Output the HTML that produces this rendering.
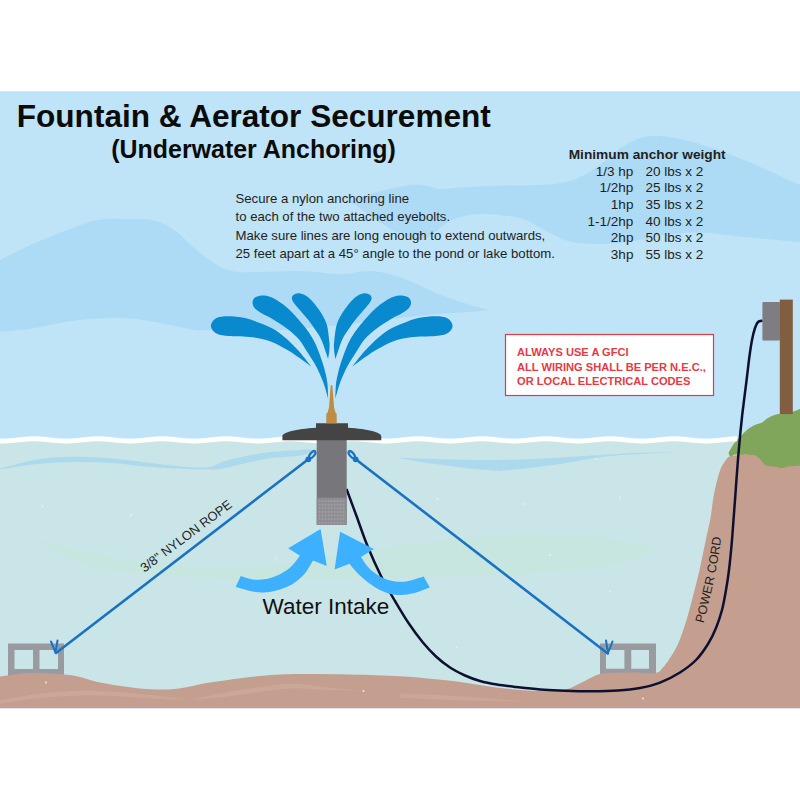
<!DOCTYPE html>
<html lang="en">
<head>
<meta charset="utf-8">
<title>Fountain &amp; Aerator Securement (Underwater Anchoring)</title>
<style>
html,body{margin:0;padding:0;background:#ffffff;}
body{width:800px;height:800px;overflow:hidden;font-family:"Liberation Sans",sans-serif;}
svg{display:block;position:absolute;left:0;top:0;}
svg text{font-family:"Liberation Sans",sans-serif;}
</style>
</head>
<body>
<svg width="800" height="800" viewBox="0 0 800 800">
<rect x="0" y="91.3" width="800" height="350" fill="#bfe3f7"/>
<path d="M0.0,260.0 C5.4,257.3 21.7,248.8 32.5,244.0 C43.3,239.2 54.2,235.0 65.0,231.0 C75.8,227.0 86.7,222.0 97.5,220.0 C108.3,218.0 120.2,218.8 130.0,219.0 C139.8,219.2 148.4,219.0 156.0,221.0 C163.6,223.0 169.0,226.4 175.5,231.0 C182.0,235.6 188.5,243.3 195.0,248.8 C201.5,254.2 208.0,259.6 214.5,263.4 C221.0,267.2 226.4,270.1 234.0,271.5 C241.6,272.9 249.0,272.1 260.0,272.0 C271.0,271.9 286.7,270.7 300.0,271.0 C313.3,271.3 328.0,274.0 340.0,274.0 C352.0,274.0 361.2,270.2 372.0,271.0 C382.8,271.8 394.2,275.2 405.0,279.0 C415.8,282.8 426.2,289.3 437.0,293.6 C447.8,297.9 461.2,302.3 470.0,305.0 C478.8,307.7 486.2,309.2 489.5,310.0 C486.2,310.3 478.8,311.3 470.0,312.0 C461.2,312.7 448.7,313.0 437.0,314.0 C425.3,315.0 417.8,316.0 400.0,318.0 C382.2,320.0 353.3,323.8 330.0,326.0 C306.7,328.2 279.8,330.3 260.0,331.0 C240.2,331.7 221.8,330.2 211.0,330.0 C200.2,329.8 203.1,331.1 195.0,330.0 C186.9,328.9 173.3,325.4 162.5,323.5 C151.7,321.6 140.8,319.4 130.0,318.6 C119.2,317.8 108.3,318.0 97.5,318.6 C86.7,319.2 75.8,320.4 65.0,322.0 C54.2,323.6 43.3,326.8 32.5,328.4 C21.7,330.0 5.4,331.1 0.0,331.6 C0.0,319.7 0.0,271.9 0.0,260.0 Z" fill="#addbf6"/>
<path d="M350.0,201.0 C353.3,199.8 363.3,196.0 370.0,194.0 C376.7,192.0 383.3,190.5 390.0,189.0 C396.7,187.5 403.8,185.5 410.0,185.0 C416.2,184.5 422.5,185.3 427.5,186.0 C432.5,186.7 434.6,188.8 440.0,189.0 C445.4,189.2 451.7,188.0 460.0,187.5 C468.3,187.0 476.7,186.4 490.0,186.0 C503.3,185.6 528.3,185.5 540.0,185.0 C551.7,184.5 553.7,184.2 560.0,183.0 C566.3,181.8 571.3,181.0 578.0,178.0 C584.7,175.0 592.2,170.5 600.0,165.0 C607.8,159.5 616.7,149.8 625.0,145.0 C633.3,140.2 640.8,137.0 650.0,136.0 C659.2,135.0 670.0,137.1 680.0,139.0 C690.0,140.9 698.3,143.6 710.0,147.5 C721.7,151.4 735.0,156.2 750.0,162.5 C765.0,168.8 791.7,181.2 800.0,185.0 C800.0,194.5 800.0,232.5 800.0,242.0 C794.5,241.5 777.8,240.0 767.0,239.0 C756.2,238.0 745.8,237.1 735.0,236.0 C724.2,234.9 712.8,232.8 702.0,232.5 C691.2,232.2 680.8,232.7 670.0,234.0 C659.2,235.3 647.8,238.9 637.0,240.6 C626.2,242.3 615.8,243.8 605.0,244.0 C594.2,244.2 581.2,243.8 572.0,242.0 C562.8,240.2 557.0,236.3 550.0,233.0 C543.0,229.7 535.8,224.7 530.0,222.0 C524.2,219.3 523.3,218.3 515.0,217.0 C506.7,215.7 490.5,213.5 480.0,214.0 C469.5,214.5 459.5,217.0 452.0,220.0 C444.5,223.0 440.0,228.7 435.0,232.0 C430.0,235.3 427.8,239.7 422.0,240.0 C416.2,240.3 407.8,237.5 400.0,234.0 C392.2,230.5 383.3,224.5 375.0,219.0 C366.7,213.5 354.2,204.0 350.0,201.0 Z" fill="#addbf6"/>
<rect x="0" y="440" width="800" height="268.2" fill="#c9e5e8"/>
<path d="M0.0,468.5 C6.2,467.0 25.0,461.4 37.5,459.4 C50.0,457.4 62.5,456.9 75.0,456.8 C87.5,456.6 100.0,457.6 112.5,458.6 C125.0,459.6 137.5,461.6 150.0,463.0 C162.5,464.4 177.5,466.3 187.5,467.0 C197.5,467.7 203.8,468.0 210.0,467.0 C216.2,466.0 216.2,463.3 225.0,461.0 C233.8,458.7 250.0,454.8 262.5,453.0 C275.0,451.2 290.8,450.6 300.0,450.0 C309.2,449.4 315.0,449.6 318.0,449.5 C315.0,450.5 309.2,454.0 300.0,455.6 C290.8,457.2 275.0,457.3 262.5,459.4 C250.0,461.5 233.8,466.3 225.0,468.0 C216.2,469.7 216.2,469.3 210.0,469.5 C203.8,469.7 197.5,469.4 187.5,469.0 C177.5,468.6 162.5,468.0 150.0,467.0 C137.5,466.0 125.0,463.8 112.5,463.0 C100.0,462.2 87.5,461.8 75.0,462.0 C62.5,462.2 50.0,462.8 37.5,464.0 C25.0,465.2 6.2,468.6 0.0,469.5 Z" fill="#add9ed"/>
<path d="M395.0,457.5 C401.7,457.8 420.0,458.6 435.0,459.0 C450.0,459.4 468.3,460.0 485.0,460.0 C501.7,460.0 518.3,459.7 535.0,459.0 C551.7,458.3 568.3,457.0 585.0,456.0 C601.7,455.0 620.0,453.6 635.0,453.0 C650.0,452.4 668.3,452.6 675.0,452.5 C664.2,453.1 629.2,454.1 610.0,456.0 C590.8,457.9 576.7,461.7 560.0,464.0 C543.3,466.3 522.5,469.0 510.0,470.0 C497.5,471.0 497.5,471.0 485.0,470.0 C472.5,469.0 450.0,466.1 435.0,464.0 C420.0,461.9 401.7,458.6 395.0,457.5 Z" fill="#add9ed"/>
<path d="M35.0,539.0 C43.8,541.2 64.2,547.7 87.5,552.0 C110.8,556.3 146.2,562.7 175.0,565.0 C203.8,567.3 230.8,568.0 260.0,566.0 C289.2,564.0 320.0,557.3 350.0,553.0 C380.0,548.7 410.8,543.0 440.0,540.0 C469.2,537.0 496.3,535.2 525.0,535.0 C553.7,534.8 590.2,536.8 612.0,539.0 C633.8,541.2 648.7,546.5 656.0,548.0 C648.7,550.8 633.8,560.7 612.0,565.0 C590.2,569.3 553.7,571.8 525.0,574.0 C496.3,576.2 469.2,577.2 440.0,578.0 C410.8,578.8 380.0,578.7 350.0,579.0 C320.0,579.3 289.2,580.3 260.0,580.0 C230.8,579.7 203.8,579.3 175.0,577.0 C146.2,574.7 110.8,572.3 87.5,566.0 C64.2,559.7 43.8,543.5 35.0,539.0 Z" fill="#c8e6e0"/>
<g fill="#e4f3f5"><circle cx="42.5" cy="506.5" r="0.9"/><circle cx="131.0" cy="515.0" r="0.9"/><circle cx="276.5" cy="558.5" r="0.9"/><circle cx="523.5" cy="504.0" r="0.9"/><circle cx="620.0" cy="497.5" r="0.9"/><circle cx="437.5" cy="499.0" r="0.9"/><circle cx="596.5" cy="459.0" r="0.9"/><circle cx="550.0" cy="555.0" r="0.9"/><circle cx="610.0" cy="591.5" r="0.9"/><circle cx="456.5" cy="647.5" r="0.9"/></g>
<path d="M8,643.5 H64 V676 H8 Z M14.5,650 V669 H33 V650 Z M39.5,650 V669 H58 V650 Z" fill="#9a9ba0" fill-rule="evenodd"/>
<path d="M600,643.5 H656 V676 H600 Z M606,650 V668.75 H624.4 V650 Z M631.25,650 V668.75 H649 V650 Z" fill="#9a9ba0" fill-rule="evenodd"/>
<path d="M0.0,676.5 C5.0,675.9 19.3,673.3 30.0,673.0 C40.7,672.7 55.7,673.8 64.0,674.5 C72.3,675.2 74.0,675.7 80.0,677.0 C86.0,678.3 90.0,680.6 100.0,682.5 C110.0,684.4 127.5,687.4 140.0,688.5 C152.5,689.6 163.3,690.0 175.0,689.0 C186.7,688.0 195.8,684.7 210.0,682.5 C224.2,680.3 245.0,677.4 260.0,676.0 C275.0,674.6 285.0,674.2 300.0,674.0 C315.0,673.8 333.3,674.1 350.0,674.5 C366.7,674.9 387.1,675.6 400.0,676.3 C412.9,677.0 418.3,677.7 427.5,678.5 C436.7,679.3 445.8,680.1 455.0,681.2 C464.2,682.4 473.3,684.1 482.5,685.4 C491.7,686.7 500.8,688.1 510.0,689.0 C519.2,689.9 528.3,690.9 537.5,691.0 C546.7,691.1 558.1,690.7 565.0,689.5 C571.9,688.3 574.2,686.1 578.8,684.0 C583.3,681.9 588.4,678.8 592.5,677.0 C596.6,675.2 597.2,674.2 603.5,673.5 C609.8,672.8 621.4,672.6 630.0,672.5 C638.6,672.4 649.6,673.8 655.0,673.0 C660.4,672.2 660.0,670.5 662.5,668.0 C665.0,665.5 667.4,662.0 670.0,658.0 C672.6,654.0 675.2,650.3 678.0,644.0 C680.8,637.7 684.0,628.0 686.5,620.0 C689.0,612.0 690.8,604.3 693.0,596.0 C695.2,587.7 697.4,579.3 699.5,570.0 C701.6,560.7 704.0,548.7 705.8,540.0 C707.6,531.3 709.3,524.7 710.5,518.0 C711.7,511.3 712.1,505.5 713.0,500.0 C713.9,494.5 714.7,490.3 716.0,485.0 C717.3,479.7 719.0,472.7 721.0,468.0 C723.0,463.3 727.0,458.8 728.2,457.0 L800,440 L800,708.2 L0,708.2 Z" fill="#c49e8f"/>
<path d="M0.0,700.0 C8.3,698.8 33.3,694.0 50.0,692.5 C66.7,691.0 83.3,690.6 100.0,691.0 C116.7,691.4 135.0,693.5 150.0,695.0 C165.0,696.5 183.3,699.2 190.0,700.0 C183.3,699.8 165.0,699.2 150.0,698.5 C135.0,697.8 116.7,695.8 100.0,695.5 C83.3,695.2 66.7,695.7 50.0,697.0 C33.3,698.3 8.3,702.4 0.0,703.5 Z" fill="#cba799"/><path d="M190.0,700.0 C195.8,698.8 210.8,695.0 225.0,692.5 C239.2,690.0 262.5,686.4 275.0,685.0 C287.5,683.6 291.7,683.7 300.0,684.0 C308.3,684.3 315.0,685.9 325.0,687.0 C335.0,688.1 354.2,689.9 360.0,690.5 C354.2,690.4 335.0,690.3 325.0,690.0 C315.0,689.7 308.3,688.5 300.0,688.5 C291.7,688.5 287.5,688.6 275.0,690.0 C262.5,691.4 239.2,695.3 225.0,697.0 C210.8,698.7 195.8,699.5 190.0,700.0 Z" fill="#cba799"/>
<path d="M400,693.5 C430,694 470,696.5 525,701.5 C470,701 430,699 400,698 Z" fill="#cba799"/>
<g fill="#f3e4d6"><circle cx="46" cy="682.5" r="1"/><circle cx="363.5" cy="691" r="1"/><circle cx="643" cy="698.5" r="1"/></g>
<path d="M728.5,453.0 C729.2,451.7 731.1,447.7 733.0,445.0 C734.9,442.3 737.5,439.7 740.0,437.0 C742.5,434.3 745.5,431.0 748.0,429.0 C750.5,427.0 752.7,426.1 755.0,425.0 C757.3,423.9 759.8,423.7 762.0,422.5 C764.2,421.3 765.7,419.3 768.0,418.0 C770.3,416.7 773.3,415.2 776.0,414.5 C778.7,413.8 781.3,413.9 784.0,413.5 C786.7,413.1 789.3,412.8 792.0,412.0 C794.7,411.2 798.7,409.5 800.0,409.0 C800.0,418.5 800.0,456.5 800.0,466.0 C799.0,465.2 796.0,465.8 794.0,466.0 C792.0,466.2 789.7,466.2 788.0,466.5 C786.3,466.8 785.3,467.6 784.0,467.8 C782.7,468.1 781.3,468.2 780.0,468.0 C778.7,467.8 777.3,466.8 776.0,466.5 C774.7,466.2 773.3,466.6 772.0,466.5 C770.7,466.4 769.2,466.1 768.0,465.8 C766.8,465.6 766.0,465.7 765.0,465.0 C764.0,464.3 762.8,462.5 762.0,461.5 C761.2,460.5 760.8,459.8 760.0,459.0 C759.2,458.2 758.0,457.2 757.0,456.5 C756.0,455.8 755.2,455.2 754.0,455.0 C752.8,454.8 751.3,455.2 750.0,455.0 C748.7,454.8 747.3,454.0 746.0,454.0 C744.7,454.0 743.2,454.8 742.0,454.8 C740.8,454.8 740.2,454.1 739.0,454.0 C737.8,453.9 736.2,454.2 735.0,454.5 C733.8,454.8 732.8,455.7 732.0,456.0 C731.2,456.3 730.6,457.0 730.0,456.5 C729.4,456.0 728.8,453.6 728.5,453.0 Z" fill="#7fa65b"/>
<path d="M-2,440.92 L0.0,440.98 L4.0,440.98 L8.0,440.81 L12.0,440.51 L16.0,440.11 L20.0,439.69 L24.0,439.29 L28.0,438.99 L32.0,438.82 L36.0,438.82 L40.0,438.99 L44.0,439.29 L48.0,439.69 L52.0,440.11 L56.0,440.51 L60.0,440.81 L64.0,440.98 L68.0,440.98 L72.0,440.81 L76.0,440.51 L80.0,440.11 L84.0,439.69 L88.0,439.29 L92.0,438.99 L96.0,438.82 L100.0,438.82 L104.0,438.99 L108.0,439.29 L112.0,439.69 L116.0,440.11 L120.0,440.51 L124.0,440.81 L128.0,440.98 L132.0,440.98 L136.0,440.81 L140.0,440.51 L144.0,440.11 L148.0,439.69 L152.0,439.29 L156.0,438.99 L160.0,438.82 L164.0,438.82 L168.0,438.99 L172.0,439.29 L176.0,439.69 L180.0,440.11 L184.0,440.51 L188.0,440.81 L192.0,440.98 L196.0,440.98 L200.0,440.81 L204.0,440.51 L208.0,440.11 L212.0,439.69 L216.0,439.29 L220.0,438.99 L224.0,438.82 L228.0,438.82 L232.0,438.99 L236.0,439.29 L240.0,439.69 L244.0,440.11 L248.0,440.51 L252.0,440.81 L256.0,440.98 L260.0,440.98 L264.0,440.81 L268.0,440.51 L272.0,440.11 L276.0,439.69 L280.0,439.29 L284.0,438.99 L288.0,438.82 L292.0,438.82 L296.0,438.99 L300.0,439.29 L304.0,439.69 L308.0,440.11 L312.0,440.51 L316.0,440.81 L320.0,440.98 L324.0,440.98 L328.0,440.81 L332.0,440.51 L336.0,440.11 L340.0,439.69 L344.0,439.29 L348.0,438.99 L352.0,438.82 L356.0,438.82 L360.0,438.99 L364.0,439.29 L368.0,439.69 L372.0,440.11 L376.0,440.51 L380.0,440.81 L384.0,440.98 L388.0,440.98 L392.0,440.81 L396.0,440.51 L400.0,440.11 L404.0,439.69 L408.0,439.29 L412.0,438.99 L416.0,438.82 L420.0,438.82 L424.0,438.99 L428.0,439.29 L432.0,439.69 L436.0,440.11 L440.0,440.51 L444.0,440.81 L448.0,440.98 L452.0,440.98 L456.0,440.81 L460.0,440.51 L464.0,440.11 L468.0,439.69 L472.0,439.29 L476.0,438.99 L480.0,438.82 L484.0,438.82 L488.0,438.99 L492.0,439.29 L496.0,439.69 L500.0,440.11 L504.0,440.51 L508.0,440.81 L512.0,440.98 L516.0,440.98 L520.0,440.81 L524.0,440.51 L528.0,440.11 L532.0,439.69 L536.0,439.29 L540.0,438.99 L544.0,438.82 L548.0,438.82 L552.0,438.99 L556.0,439.29 L560.0,439.69 L564.0,440.11 L568.0,440.51 L572.0,440.81 L576.0,440.98 L580.0,440.98 L584.0,440.81 L588.0,440.51 L592.0,440.11 L596.0,439.69 L600.0,439.29 L604.0,438.99 L608.0,438.82 L612.0,438.82 L616.0,438.99 L620.0,439.29 L624.0,439.69 L628.0,440.11 L632.0,440.51 L636.0,440.81 L640.0,440.98 L644.0,440.98 L648.0,440.81 L652.0,440.51 L656.0,440.11 L660.0,439.69 L664.0,439.29 L668.0,438.99 L672.0,438.82 L676.0,438.82 L680.0,438.99 L684.0,439.29 L688.0,439.69 L692.0,440.11 L696.0,440.51 L700.0,440.81 L704.0,440.98 L708.0,440.98 L712.0,440.81 L716.0,440.51 L720.0,440.11 L724.0,439.69 L728.0,439.29 L732.0,438.99 L736.0,438.82 L737.0,438.81" fill="none" stroke="#ffffff" stroke-width="4.9"/>
<rect x="779.8" y="299.6" width="13" height="114.5" fill="#805e3f"/>
<rect x="762.4" y="302" width="17.6" height="38.6" rx="1" fill="#7d7d82"/>
<path d="M346.5,489.0 C348.2,493.5 353.0,506.5 356.5,516.0 C360.0,525.5 363.4,536.0 367.5,546.0 C371.6,556.0 376.4,566.8 381.0,576.0 C385.6,585.2 390.4,593.2 395.0,601.0 C399.6,608.8 403.9,616.2 408.5,623.0 C413.1,629.8 417.9,636.4 422.5,642.0 C427.1,647.6 431.4,652.2 436.0,656.5 C440.6,660.8 445.2,664.3 450.0,667.5 C454.8,670.7 460.0,673.2 465.0,675.5 C470.0,677.8 474.7,679.5 480.0,681.0 C485.3,682.5 491.0,683.6 497.0,684.6 C503.0,685.6 508.8,686.2 516.0,687.0 C523.2,687.8 531.8,688.8 540.0,689.4 C548.2,690.0 556.3,690.5 565.0,690.8 C573.7,691.1 583.2,691.3 592.0,691.3 C600.8,691.2 610.0,691.0 618.0,690.5 C626.0,690.0 633.0,689.3 640.0,688.0 C647.0,686.7 653.3,685.2 660.0,682.6 C666.7,680.0 674.0,676.3 680.0,672.5 C686.0,668.7 691.3,664.8 696.0,660.0 C700.7,655.2 704.7,649.3 708.0,644.0 C711.3,638.7 713.7,633.7 716.0,628.0 C718.3,622.3 720.3,616.3 722.0,610.0 C723.7,603.7 724.8,596.7 726.0,590.0 C727.2,583.3 728.0,578.3 729.0,570.0 C730.0,561.7 731.0,551.7 732.0,540.0 C733.0,528.3 733.9,515.0 735.0,500.0 C736.1,485.0 737.5,464.2 738.8,450.0 C740.0,435.8 740.9,426.7 742.2,415.0 C743.6,403.3 745.4,389.8 746.6,380.0 C747.8,370.2 748.6,362.7 749.5,356.0 C750.4,349.3 751.1,344.7 752.0,340.0 C752.9,335.3 754.0,331.0 755.0,328.0 C756.0,325.0 756.8,323.2 758.0,322.0 C759.2,320.8 761.7,320.8 762.4,320.6" fill="none" stroke="#0d1030" stroke-width="2.5"/>
<g stroke="#1a72c4" stroke-width="2.6" fill="none" stroke-linecap="round" stroke-linejoin="round"><path d="M308,459.5 L56,653"/><path d="M356,459.5 L607.75,653.5"/><ellipse cx="312.3" cy="454.6" rx="4.2" ry="2" transform="rotate(-50 312.3 454.6)" stroke-width="2.3"/><ellipse cx="351.7" cy="454.6" rx="4.2" ry="2" transform="rotate(50 351.7 454.6)" stroke-width="2.3"/><path d="M51,641.5 L55.5,652.5 L57.5,640.5" stroke-width="2"/><path d="M606,640.5 L608,653 L612.5,641.5" stroke-width="2"/></g>
<circle cx="308.3" cy="459.3" r="2.9" fill="#1a72c4"/><circle cx="355.7" cy="459.3" r="2.9" fill="#1a72c4"/>
<rect x="316.7" y="438" width="30" height="86.8" fill="#77777b"/>
<defs><pattern id="mesh" x="318.2" y="499.3" width="3" height="3.6" patternUnits="userSpaceOnUse"><rect width="3" height="3.6" fill="#8e8e92"/><circle cx="1.5" cy="1.8" r="0.75" fill="#b4b4b8"/></pattern></defs><rect x="316.7" y="497.7" width="30" height="27.1" fill="#8e8e92"/><rect x="318.2" y="499.3" width="27" height="25.2" fill="url(#mesh)"/>
<path d="M282.4,440.2 L282.4,436.2 C282.4,432.3 296,429.2 316,427.8 L316,423.2 L348,423.2 L348,427.8 C368,429.2 381.3,432.3 381.3,436.2 L381.3,440.2 Z" fill="#444444"/>
<path d="M326.3,423.2 L326.3,414.6 Q326.3,413.2 327.6,412.6 L329,407.5 L330.7,385.4 Q331.5,384.6 332.3,385.4 L334.1,407.5 L335.4,412.6 Q336.7,413.2 336.7,414.6 L336.7,423.2 Z" fill="#bd8c45"/>
<g fill="#0a8ace"><path d="M311.2,366.4 C308.8,363.4 301.7,353.9 296.2,348.2 C290.8,342.6 284.6,336.6 278.8,332.5 C272.9,328.4 266.9,326.0 261.2,323.6 C255.6,321.2 250.5,319.2 245.0,318.0 C239.5,316.8 232.8,316.2 228.0,316.2 C223.2,316.2 218.8,316.6 216.0,318.2 C213.2,319.8 210.9,323.4 210.9,325.9 C210.9,328.4 213.2,331.5 216.0,333.2 C218.8,334.9 221.9,335.3 228.0,336.0 C234.1,336.7 245.5,336.3 252.5,337.2 C259.5,338.1 264.2,339.1 270.0,341.2 C275.8,343.4 282.0,346.8 287.5,350.0 C293.0,353.2 299.0,357.7 303.0,360.4 C307.0,363.1 309.9,365.4 311.2,366.4 Z"/><path d="M328.1,398.5 C328.0,396.2 328.0,389.1 327.6,385.0 C327.2,380.9 326.5,377.5 325.6,373.8 C324.8,370.0 323.7,366.2 322.5,362.5 C321.3,358.8 320.0,355.0 318.5,351.2 C317.0,347.5 315.8,344.0 313.5,340.0 C311.2,336.0 309.3,332.6 305.0,327.2 C300.7,321.9 293.0,312.9 287.5,308.0 C282.0,303.1 276.2,299.7 272.0,297.6 C267.8,295.5 264.8,295.4 262.0,295.4 C259.2,295.4 256.6,296.4 255.0,297.6 C253.4,298.8 252.5,300.9 252.5,302.8 C252.5,304.6 253.4,306.8 255.0,308.6 C256.6,310.4 259.2,311.8 262.0,313.5 C264.8,315.2 267.8,316.2 272.0,318.8 C276.2,321.4 283.0,325.6 287.5,329.0 C292.0,332.4 295.8,335.8 299.0,339.5 C302.2,343.2 304.2,347.4 306.8,351.2 C309.2,355.1 311.8,358.8 314.0,362.5 C316.2,366.2 318.0,370.0 319.7,373.8 C321.4,377.5 322.8,380.9 324.2,385.0 C325.6,389.1 327.5,396.2 328.1,398.5 Z"/><path d="M328.1,359.1 C328.3,357.6 329.2,353.0 329.4,350.0 C329.6,347.0 329.8,345.6 329.3,341.2 C328.8,336.9 328.2,329.0 326.5,323.8 C324.8,318.5 322.0,314.1 319.0,309.8 C316.0,305.4 311.8,300.2 308.5,297.5 C305.2,294.8 301.9,293.8 299.5,293.3 C297.1,292.8 295.3,293.8 294.0,294.6 C292.7,295.4 292.0,296.7 291.9,297.9 C291.8,299.1 292.3,300.3 293.3,302.0 C294.3,303.7 295.5,305.0 298.0,308.0 C300.5,311.0 305.2,316.1 308.5,320.2 C311.8,324.4 315.2,329.5 317.5,333.0 C319.8,336.5 320.7,338.2 322.0,341.2 C323.3,344.3 324.5,348.3 325.5,351.2 C326.5,354.2 327.7,357.8 328.1,359.1 Z"/><g transform="translate(663.5,0) scale(-1,1)"><path d="M311.2,366.4 C308.8,363.4 301.7,353.9 296.2,348.2 C290.8,342.6 284.6,336.6 278.8,332.5 C272.9,328.4 266.9,326.0 261.2,323.6 C255.6,321.2 250.5,319.2 245.0,318.0 C239.5,316.8 232.8,316.2 228.0,316.2 C223.2,316.2 218.8,316.6 216.0,318.2 C213.2,319.8 210.9,323.4 210.9,325.9 C210.9,328.4 213.2,331.5 216.0,333.2 C218.8,334.9 221.9,335.3 228.0,336.0 C234.1,336.7 245.5,336.3 252.5,337.2 C259.5,338.1 264.2,339.1 270.0,341.2 C275.8,343.4 282.0,346.8 287.5,350.0 C293.0,353.2 299.0,357.7 303.0,360.4 C307.0,363.1 309.9,365.4 311.2,366.4 Z"/><path d="M328.1,398.5 C328.0,396.2 328.0,389.1 327.6,385.0 C327.2,380.9 326.5,377.5 325.6,373.8 C324.8,370.0 323.7,366.2 322.5,362.5 C321.3,358.8 320.0,355.0 318.5,351.2 C317.0,347.5 315.8,344.0 313.5,340.0 C311.2,336.0 309.3,332.6 305.0,327.2 C300.7,321.9 293.0,312.9 287.5,308.0 C282.0,303.1 276.2,299.7 272.0,297.6 C267.8,295.5 264.8,295.4 262.0,295.4 C259.2,295.4 256.6,296.4 255.0,297.6 C253.4,298.8 252.5,300.9 252.5,302.8 C252.5,304.6 253.4,306.8 255.0,308.6 C256.6,310.4 259.2,311.8 262.0,313.5 C264.8,315.2 267.8,316.2 272.0,318.8 C276.2,321.4 283.0,325.6 287.5,329.0 C292.0,332.4 295.8,335.8 299.0,339.5 C302.2,343.2 304.2,347.4 306.8,351.2 C309.2,355.1 311.8,358.8 314.0,362.5 C316.2,366.2 318.0,370.0 319.7,373.8 C321.4,377.5 322.8,380.9 324.2,385.0 C325.6,389.1 327.5,396.2 328.1,398.5 Z"/><path d="M328.1,359.1 C328.3,357.6 329.2,353.0 329.4,350.0 C329.6,347.0 329.8,345.6 329.3,341.2 C328.8,336.9 328.2,329.0 326.5,323.8 C324.8,318.5 322.0,314.1 319.0,309.8 C316.0,305.4 311.8,300.2 308.5,297.5 C305.2,294.8 301.9,293.8 299.5,293.3 C297.1,292.8 295.3,293.8 294.0,294.6 C292.7,295.4 292.0,296.7 291.9,297.9 C291.8,299.1 292.3,300.3 293.3,302.0 C294.3,303.7 295.5,305.0 298.0,308.0 C300.5,311.0 305.2,316.1 308.5,320.2 C311.8,324.4 315.2,329.5 317.5,333.0 C319.8,336.5 320.7,338.2 322.0,341.2 C323.3,344.3 324.5,348.3 325.5,351.2 C326.5,354.2 327.7,357.8 328.1,359.1 Z"/></g></g>
<g fill="#3db0ff"><path d="M240.8,576.1 C242.8,576.6 248.3,578.9 252.5,579.4 C256.7,579.9 261.7,580.0 266.2,579.1 C270.8,578.2 275.9,576.4 280.0,574.3 C284.1,572.2 287.7,569.8 291.0,566.8 C294.3,563.7 298.5,557.6 300.0,555.8 L288.25,548.2 L320.6,529 L326.75,566 L313,560.6 C311.6,562.8 308.0,569.8 304.8,573.6 C301.5,577.4 297.9,580.6 293.8,583.2 C289.6,585.9 284.6,587.9 280.0,589.4 C275.4,590.9 270.8,591.9 266.2,592.2 C261.7,592.6 257.6,592.4 252.5,591.5 C247.4,590.6 238.5,587.5 235.7,586.7 Z"/><path d="M423.7,576.6 C421.0,577.4 412.5,580.4 407.5,581.2 C402.5,582.0 398.3,582.0 393.8,581.2 C389.2,580.4 384.1,578.6 380.0,576.4 C375.9,574.2 372.2,571.4 369.0,568.1 C365.8,564.8 362.3,558.7 361.0,556.9 L373.8,549.1 L340.1,531.7 L334.6,569.5 L349.5,563.7 C351.1,565.6 355.5,571.3 359.4,575.0 C363.3,578.7 368.5,583.0 373.1,586.0 C377.7,589.0 382.3,591.4 386.9,592.9 C391.5,594.4 396.0,594.9 400.6,594.9 C405.2,594.9 409.5,594.1 414.4,592.9 C419.3,591.6 427.2,588.3 429.8,587.4 Z"/></g>
<rect x="505.5" y="334.5" width="208" height="61" fill="#ffffff" stroke="#e63946" stroke-width="1.2"/>
<text x="16.8" y="127" font-size="32" font-weight="bold" fill="#0b0b0b" textLength="474" lengthAdjust="spacingAndGlyphs">Fountain &amp; Aerator Securement</text>
<text x="111.3" y="158" font-size="26" font-weight="bold" fill="#0b0b0b" textLength="284.5" lengthAdjust="spacingAndGlyphs">(Underwater Anchoring)</text>
<text x="235.5" y="203.0" font-size="13.18" fill="#231f20">Secure a nylon anchoring line</text>
<text x="235.5" y="221.3" font-size="13.18" fill="#231f20">to each of the two attached eyebolts.</text>
<text x="235.5" y="239.6" font-size="13.18" fill="#231f20">Make sure lines are long enough to extend outwards,</text>
<text x="235.5" y="257.9" font-size="13.18" fill="#231f20">25 feet apart at a 45° angle to the pond or lake bottom.</text>
<text x="568.7" y="159" font-size="13.6" font-weight="bold" fill="#231f20" textLength="157" lengthAdjust="spacingAndGlyphs">Minimum anchor weight</text>
<text x="633.4" y="175.8" font-size="13.5" text-anchor="end" fill="#231f20">1/3 hp</text>
<text x="645.5" y="175.8" font-size="13.5" fill="#231f20">20 lbs x 2</text>
<text x="633.4" y="192.3" font-size="13.5" text-anchor="end" fill="#231f20">1/2hp</text>
<text x="645.5" y="192.3" font-size="13.5" fill="#231f20">25 lbs x 2</text>
<text x="633.4" y="208.9" font-size="13.5" text-anchor="end" fill="#231f20">1hp</text>
<text x="645.5" y="208.9" font-size="13.5" fill="#231f20">35 lbs x 2</text>
<text x="633.4" y="225.6" font-size="13.5" text-anchor="end" fill="#231f20">1-1/2hp</text>
<text x="645.5" y="225.6" font-size="13.5" fill="#231f20">40 lbs x 2</text>
<text x="633.4" y="242.2" font-size="13.5" text-anchor="end" fill="#231f20">2hp</text>
<text x="645.5" y="242.2" font-size="13.5" fill="#231f20">50 lbs x 2</text>
<text x="633.4" y="258.8" font-size="13.5" text-anchor="end" fill="#231f20">3hp</text>
<text x="645.5" y="258.8" font-size="13.5" fill="#231f20">55 lbs x 2</text>
<text x="517" y="356.0" font-size="11.1" font-weight="bold" fill="#e63946">ALWAYS USE A GFCI</text>
<text x="517" y="370.5" font-size="11.1" font-weight="bold" fill="#e63946">ALL WIRING SHALL BE PER N.E.C.,</text>
<text x="517" y="385.0" font-size="11.1" font-weight="bold" fill="#e63946">OR LOCAL ELECTRICAL CODES</text>
<text x="262.6" y="614.2" font-size="22" fill="#111111" textLength="126.6" lengthAdjust="spacingAndGlyphs">Water Intake</text>
<text transform="translate(144.5,572.75) rotate(-36.9)" font-size="12.9" fill="#231f20">3/8&quot; NYLON ROPE</text>
<path id="pc" d="M703.6,623.2 C709.6,600 717.6,570 722.1,531" fill="none"/>
<text font-size="12.55" fill="#231f20"><textPath href="#pc">POWER CORD</textPath></text>
</svg>
</body>
</html>
